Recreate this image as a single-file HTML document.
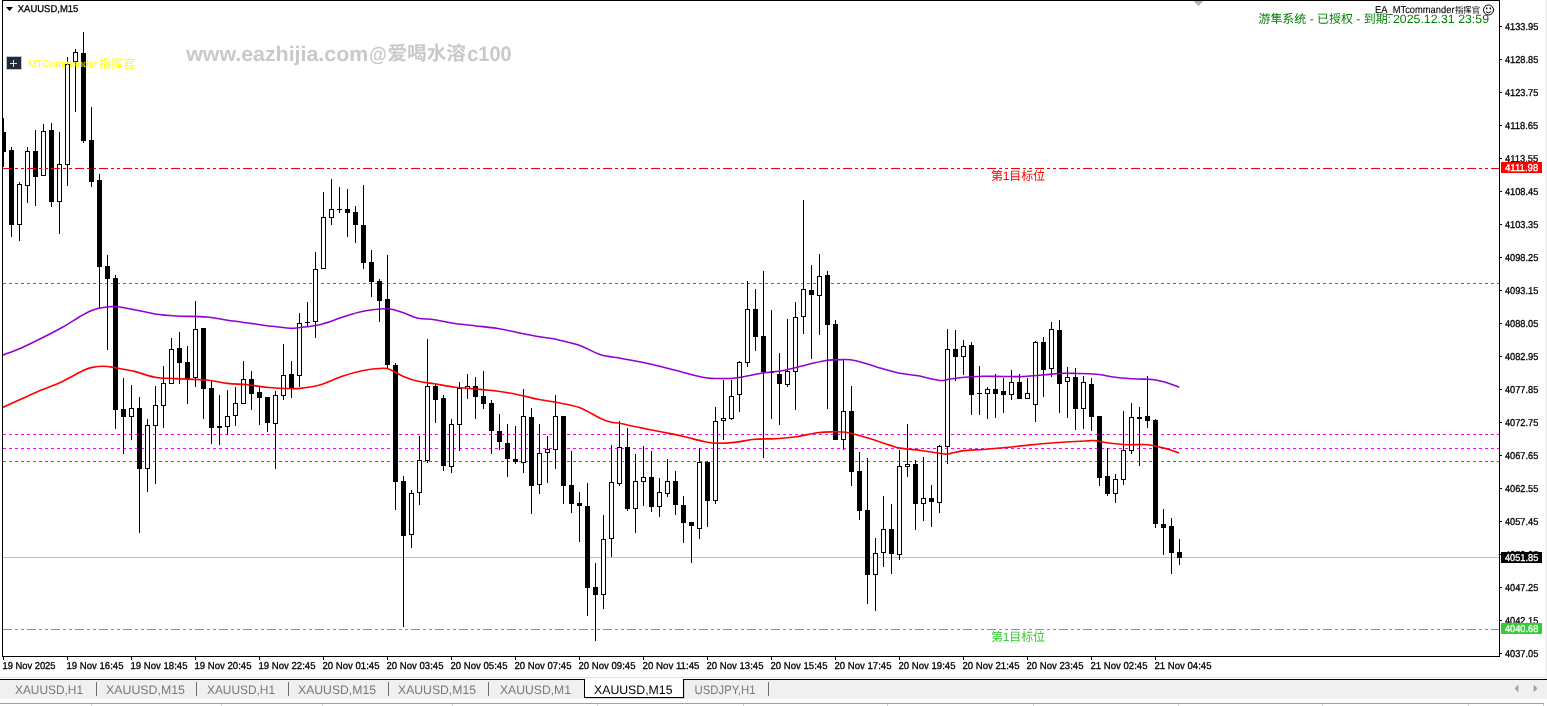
<!DOCTYPE html>
<html lang="zh"><head><meta charset="utf-8"><title>XAUUSD,M15</title>
<style>
html,body{margin:0;padding:0;background:#fff;}
body{width:1547px;height:706px;overflow:hidden;position:relative;font-family:"Liberation Sans", "Noto Sans CJK SC", sans-serif;}
svg{position:absolute;left:0;top:0;display:block;}
svg text{font-family:"Liberation Sans", "Noto Sans CJK SC", sans-serif;text-rendering:geometricPrecision;}
.ax{text-rendering:geometricPrecision;font-size:10px;fill:#000;stroke:#000;stroke-width:0.3px;}
.tab{font-size:12.3px;fill:#787878;}
</style></head><body>
<svg width="1547" height="706" viewBox="0 0 1547 706">
<rect x="0" y="0" width="1547" height="706" fill="#ffffff"/>
<g shape-rendering="crispEdges" fill="none" stroke-width="1">
<line x1="3" y1="557.5" x2="1499" y2="557.5" stroke="#c0c0c0"/>
<line x1="3" y1="283.5" x2="1499" y2="283.5" stroke="#ff00ff" stroke-dasharray="3 3"/>
<line x1="3" y1="434.5" x2="1499" y2="434.5" stroke="#ff00ff" stroke-dasharray="3 3"/>
<line x1="3" y1="448.5" x2="1499" y2="448.5" stroke="#ff00ff" stroke-dasharray="3 3"/>
<line x1="3" y1="461.5" x2="1499" y2="461.5" stroke="#ff00ff" stroke-dasharray="3 3"/>
</g>
<g shape-rendering="crispEdges">
<rect x="3" y="118" width="1" height="49" fill="#000"/>
<rect x="2" y="132" width="4" height="20" fill="#000"/>
<rect x="11" y="147" width="1" height="90" fill="#000"/>
<rect x="9" y="150" width="5" height="75" fill="#000"/>
<rect x="19" y="182" width="1" height="59" fill="#000"/>
<rect x="17" y="184" width="5" height="41" fill="#000"/>
<rect x="18" y="185" width="3" height="39" fill="#fff"/>
<rect x="27" y="147" width="1" height="56" fill="#000"/>
<rect x="25" y="151" width="5" height="35" fill="#000"/>
<rect x="26" y="152" width="3" height="33" fill="#fff"/>
<rect x="35" y="130" width="1" height="76" fill="#000"/>
<rect x="33" y="151" width="5" height="26" fill="#000"/>
<rect x="43" y="124" width="1" height="52" fill="#000"/>
<rect x="41" y="131" width="5" height="45" fill="#000"/>
<rect x="42" y="132" width="3" height="43" fill="#fff"/>
<rect x="51" y="123" width="1" height="84" fill="#000"/>
<rect x="49" y="130" width="5" height="72" fill="#000"/>
<rect x="59" y="132" width="1" height="102" fill="#000"/>
<rect x="57" y="164" width="5" height="38" fill="#000"/>
<rect x="58" y="165" width="3" height="36" fill="#fff"/>
<rect x="67" y="57" width="1" height="129" fill="#000"/>
<rect x="65" y="64" width="5" height="101" fill="#000"/>
<rect x="66" y="65" width="3" height="99" fill="#fff"/>
<rect x="75" y="49" width="1" height="63" fill="#000"/>
<rect x="73" y="52" width="5" height="10" fill="#000"/>
<rect x="74" y="53" width="3" height="8" fill="#fff"/>
<rect x="83" y="32" width="1" height="111" fill="#000"/>
<rect x="81" y="53" width="5" height="88" fill="#000"/>
<rect x="91" y="107" width="1" height="80" fill="#000"/>
<rect x="89" y="140" width="5" height="42" fill="#000"/>
<rect x="99" y="174" width="1" height="134" fill="#000"/>
<rect x="97" y="180" width="5" height="87" fill="#000"/>
<rect x="107" y="255" width="1" height="95" fill="#000"/>
<rect x="105" y="266" width="5" height="13" fill="#000"/>
<rect x="115" y="275" width="1" height="154" fill="#000"/>
<rect x="113" y="278" width="5" height="132" fill="#000"/>
<rect x="123" y="378" width="1" height="76" fill="#000"/>
<rect x="121" y="409" width="5" height="8" fill="#000"/>
<rect x="131" y="385" width="1" height="55" fill="#000"/>
<rect x="129" y="408" width="5" height="9" fill="#000"/>
<rect x="130" y="409" width="3" height="7" fill="#fff"/>
<rect x="139" y="397" width="1" height="136" fill="#000"/>
<rect x="137" y="408" width="5" height="61" fill="#000"/>
<rect x="147" y="419" width="1" height="73" fill="#000"/>
<rect x="145" y="425" width="5" height="44" fill="#000"/>
<rect x="146" y="426" width="3" height="42" fill="#fff"/>
<rect x="155" y="386" width="1" height="98" fill="#000"/>
<rect x="153" y="405" width="5" height="21" fill="#000"/>
<rect x="154" y="406" width="3" height="19" fill="#fff"/>
<rect x="163" y="366" width="1" height="62" fill="#000"/>
<rect x="161" y="383" width="5" height="23" fill="#000"/>
<rect x="162" y="384" width="3" height="21" fill="#fff"/>
<rect x="171" y="338" width="1" height="46" fill="#000"/>
<rect x="169" y="349" width="5" height="35" fill="#000"/>
<rect x="170" y="350" width="3" height="33" fill="#fff"/>
<rect x="179" y="332" width="1" height="52" fill="#000"/>
<rect x="177" y="348" width="5" height="15" fill="#000"/>
<rect x="187" y="346" width="1" height="58" fill="#000"/>
<rect x="185" y="362" width="5" height="17" fill="#000"/>
<rect x="195" y="301" width="1" height="86" fill="#000"/>
<rect x="193" y="329" width="5" height="49" fill="#000"/>
<rect x="194" y="330" width="3" height="47" fill="#fff"/>
<rect x="203" y="328" width="1" height="91" fill="#000"/>
<rect x="201" y="328" width="5" height="61" fill="#000"/>
<rect x="211" y="380" width="1" height="64" fill="#000"/>
<rect x="209" y="388" width="5" height="40" fill="#000"/>
<rect x="219" y="395" width="1" height="50" fill="#000"/>
<rect x="217" y="426" width="5" height="2" fill="#000"/>
<rect x="227" y="390" width="1" height="45" fill="#000"/>
<rect x="225" y="416" width="5" height="11" fill="#000"/>
<rect x="226" y="417" width="3" height="9" fill="#fff"/>
<rect x="235" y="387" width="1" height="39" fill="#000"/>
<rect x="233" y="403" width="5" height="13" fill="#000"/>
<rect x="234" y="404" width="3" height="11" fill="#fff"/>
<rect x="243" y="361" width="1" height="43" fill="#000"/>
<rect x="241" y="379" width="5" height="25" fill="#000"/>
<rect x="242" y="380" width="3" height="23" fill="#fff"/>
<rect x="251" y="371" width="1" height="39" fill="#000"/>
<rect x="249" y="379" width="5" height="15" fill="#000"/>
<rect x="259" y="386" width="1" height="39" fill="#000"/>
<rect x="257" y="392" width="5" height="6" fill="#000"/>
<rect x="267" y="397" width="1" height="35" fill="#000"/>
<rect x="265" y="397" width="5" height="26" fill="#000"/>
<rect x="275" y="391" width="1" height="78" fill="#000"/>
<rect x="273" y="395" width="5" height="29" fill="#000"/>
<rect x="274" y="396" width="3" height="27" fill="#fff"/>
<rect x="283" y="344" width="1" height="56" fill="#000"/>
<rect x="281" y="375" width="5" height="21" fill="#000"/>
<rect x="282" y="376" width="3" height="19" fill="#fff"/>
<rect x="291" y="361" width="1" height="37" fill="#000"/>
<rect x="289" y="374" width="5" height="14" fill="#000"/>
<rect x="299" y="313" width="1" height="74" fill="#000"/>
<rect x="297" y="323" width="5" height="53" fill="#000"/>
<rect x="298" y="324" width="3" height="51" fill="#fff"/>
<rect x="307" y="302" width="1" height="25" fill="#000"/>
<rect x="305" y="322" width="5" height="1" fill="#000"/>
<rect x="315" y="252" width="1" height="86" fill="#000"/>
<rect x="313" y="269" width="5" height="53" fill="#000"/>
<rect x="314" y="270" width="3" height="51" fill="#fff"/>
<rect x="323" y="192" width="1" height="77" fill="#000"/>
<rect x="321" y="217" width="5" height="52" fill="#000"/>
<rect x="322" y="218" width="3" height="50" fill="#fff"/>
<rect x="331" y="179" width="1" height="46" fill="#000"/>
<rect x="329" y="209" width="5" height="9" fill="#000"/>
<rect x="330" y="210" width="3" height="7" fill="#fff"/>
<rect x="339" y="187" width="1" height="26" fill="#000"/>
<rect x="337" y="209" width="5" height="1" fill="#000"/>
<rect x="347" y="189" width="1" height="48" fill="#000"/>
<rect x="345" y="209" width="5" height="4" fill="#000"/>
<rect x="355" y="206" width="1" height="37" fill="#000"/>
<rect x="353" y="212" width="5" height="13" fill="#000"/>
<rect x="363" y="185" width="1" height="84" fill="#000"/>
<rect x="361" y="225" width="5" height="38" fill="#000"/>
<rect x="371" y="250" width="1" height="47" fill="#000"/>
<rect x="369" y="262" width="5" height="20" fill="#000"/>
<rect x="379" y="279" width="1" height="43" fill="#000"/>
<rect x="377" y="281" width="5" height="20" fill="#000"/>
<rect x="387" y="255" width="1" height="113" fill="#000"/>
<rect x="385" y="299" width="5" height="66" fill="#000"/>
<rect x="395" y="363" width="1" height="147" fill="#000"/>
<rect x="393" y="365" width="5" height="117" fill="#000"/>
<rect x="403" y="476" width="1" height="151" fill="#000"/>
<rect x="401" y="481" width="5" height="55" fill="#000"/>
<rect x="411" y="490" width="1" height="58" fill="#000"/>
<rect x="409" y="493" width="5" height="42" fill="#000"/>
<rect x="410" y="494" width="3" height="40" fill="#fff"/>
<rect x="419" y="436" width="1" height="69" fill="#000"/>
<rect x="417" y="460" width="5" height="33" fill="#000"/>
<rect x="418" y="461" width="3" height="31" fill="#fff"/>
<rect x="427" y="339" width="1" height="124" fill="#000"/>
<rect x="425" y="386" width="5" height="75" fill="#000"/>
<rect x="426" y="387" width="3" height="73" fill="#fff"/>
<rect x="435" y="384" width="1" height="39" fill="#000"/>
<rect x="433" y="386" width="5" height="14" fill="#000"/>
<rect x="443" y="395" width="1" height="76" fill="#000"/>
<rect x="441" y="398" width="5" height="68" fill="#000"/>
<rect x="451" y="419" width="1" height="54" fill="#000"/>
<rect x="449" y="424" width="5" height="43" fill="#000"/>
<rect x="450" y="425" width="3" height="41" fill="#fff"/>
<rect x="459" y="382" width="1" height="69" fill="#000"/>
<rect x="457" y="388" width="5" height="37" fill="#000"/>
<rect x="458" y="389" width="3" height="35" fill="#fff"/>
<rect x="467" y="374" width="1" height="25" fill="#000"/>
<rect x="465" y="386" width="5" height="3" fill="#000"/>
<rect x="466" y="387" width="3" height="1" fill="#fff"/>
<rect x="475" y="377" width="1" height="42" fill="#000"/>
<rect x="473" y="386" width="5" height="11" fill="#000"/>
<rect x="483" y="371" width="1" height="38" fill="#000"/>
<rect x="481" y="396" width="5" height="8" fill="#000"/>
<rect x="491" y="400" width="1" height="54" fill="#000"/>
<rect x="489" y="403" width="5" height="28" fill="#000"/>
<rect x="499" y="414" width="1" height="36" fill="#000"/>
<rect x="497" y="431" width="5" height="11" fill="#000"/>
<rect x="507" y="424" width="1" height="53" fill="#000"/>
<rect x="505" y="443" width="5" height="16" fill="#000"/>
<rect x="515" y="426" width="1" height="38" fill="#000"/>
<rect x="513" y="459" width="5" height="3" fill="#000"/>
<rect x="523" y="389" width="1" height="84" fill="#000"/>
<rect x="521" y="416" width="5" height="47" fill="#000"/>
<rect x="522" y="417" width="3" height="45" fill="#fff"/>
<rect x="531" y="408" width="1" height="106" fill="#000"/>
<rect x="529" y="417" width="5" height="69" fill="#000"/>
<rect x="539" y="424" width="1" height="70" fill="#000"/>
<rect x="537" y="453" width="5" height="32" fill="#000"/>
<rect x="538" y="454" width="3" height="30" fill="#fff"/>
<rect x="547" y="436" width="1" height="47" fill="#000"/>
<rect x="545" y="449" width="5" height="4" fill="#000"/>
<rect x="546" y="450" width="3" height="2" fill="#fff"/>
<rect x="555" y="395" width="1" height="74" fill="#000"/>
<rect x="553" y="416" width="5" height="34" fill="#000"/>
<rect x="554" y="417" width="3" height="32" fill="#fff"/>
<rect x="563" y="416" width="1" height="88" fill="#000"/>
<rect x="561" y="416" width="5" height="70" fill="#000"/>
<rect x="571" y="451" width="1" height="62" fill="#000"/>
<rect x="569" y="485" width="5" height="19" fill="#000"/>
<rect x="579" y="492" width="1" height="50" fill="#000"/>
<rect x="577" y="503" width="5" height="3" fill="#000"/>
<rect x="587" y="483" width="1" height="133" fill="#000"/>
<rect x="585" y="506" width="5" height="82" fill="#000"/>
<rect x="595" y="563" width="1" height="78" fill="#000"/>
<rect x="593" y="587" width="5" height="8" fill="#000"/>
<rect x="603" y="515" width="1" height="94" fill="#000"/>
<rect x="601" y="539" width="5" height="56" fill="#000"/>
<rect x="602" y="540" width="3" height="54" fill="#fff"/>
<rect x="611" y="445" width="1" height="112" fill="#000"/>
<rect x="609" y="482" width="5" height="57" fill="#000"/>
<rect x="610" y="483" width="3" height="55" fill="#fff"/>
<rect x="619" y="421" width="1" height="65" fill="#000"/>
<rect x="617" y="447" width="5" height="37" fill="#000"/>
<rect x="618" y="448" width="3" height="35" fill="#fff"/>
<rect x="627" y="428" width="1" height="83" fill="#000"/>
<rect x="625" y="447" width="5" height="62" fill="#000"/>
<rect x="635" y="454" width="1" height="79" fill="#000"/>
<rect x="633" y="481" width="5" height="28" fill="#000"/>
<rect x="634" y="482" width="3" height="26" fill="#fff"/>
<rect x="643" y="446" width="1" height="60" fill="#000"/>
<rect x="641" y="477" width="5" height="5" fill="#000"/>
<rect x="642" y="478" width="3" height="3" fill="#fff"/>
<rect x="651" y="451" width="1" height="61" fill="#000"/>
<rect x="649" y="477" width="5" height="30" fill="#000"/>
<rect x="659" y="478" width="1" height="39" fill="#000"/>
<rect x="657" y="492" width="5" height="15" fill="#000"/>
<rect x="658" y="493" width="3" height="13" fill="#fff"/>
<rect x="667" y="459" width="1" height="38" fill="#000"/>
<rect x="665" y="481" width="5" height="13" fill="#000"/>
<rect x="666" y="482" width="3" height="11" fill="#fff"/>
<rect x="675" y="471" width="1" height="44" fill="#000"/>
<rect x="673" y="481" width="5" height="24" fill="#000"/>
<rect x="683" y="496" width="1" height="47" fill="#000"/>
<rect x="681" y="505" width="5" height="18" fill="#000"/>
<rect x="691" y="522" width="1" height="41" fill="#000"/>
<rect x="689" y="522" width="5" height="4" fill="#000"/>
<rect x="699" y="448" width="1" height="91" fill="#000"/>
<rect x="697" y="462" width="5" height="67" fill="#000"/>
<rect x="698" y="463" width="3" height="65" fill="#fff"/>
<rect x="707" y="461" width="1" height="66" fill="#000"/>
<rect x="705" y="462" width="5" height="39" fill="#000"/>
<rect x="715" y="407" width="1" height="97" fill="#000"/>
<rect x="713" y="421" width="5" height="80" fill="#000"/>
<rect x="714" y="422" width="3" height="78" fill="#fff"/>
<rect x="723" y="380" width="1" height="60" fill="#000"/>
<rect x="721" y="418" width="5" height="3" fill="#000"/>
<rect x="722" y="419" width="3" height="1" fill="#fff"/>
<rect x="731" y="380" width="1" height="40" fill="#000"/>
<rect x="729" y="396" width="5" height="23" fill="#000"/>
<rect x="730" y="397" width="3" height="21" fill="#fff"/>
<rect x="739" y="361" width="1" height="51" fill="#000"/>
<rect x="737" y="362" width="5" height="33" fill="#000"/>
<rect x="738" y="363" width="3" height="31" fill="#fff"/>
<rect x="747" y="281" width="1" height="86" fill="#000"/>
<rect x="745" y="309" width="5" height="54" fill="#000"/>
<rect x="746" y="310" width="3" height="52" fill="#fff"/>
<rect x="755" y="289" width="1" height="62" fill="#000"/>
<rect x="753" y="309" width="5" height="28" fill="#000"/>
<rect x="763" y="271" width="1" height="187" fill="#000"/>
<rect x="761" y="336" width="5" height="36" fill="#000"/>
<rect x="771" y="310" width="1" height="109" fill="#000"/>
<rect x="769" y="372" width="5" height="1" fill="#000"/>
<rect x="779" y="353" width="1" height="72" fill="#000"/>
<rect x="777" y="374" width="5" height="10" fill="#000"/>
<rect x="787" y="319" width="1" height="68" fill="#000"/>
<rect x="785" y="371" width="5" height="14" fill="#000"/>
<rect x="786" y="372" width="3" height="12" fill="#fff"/>
<rect x="795" y="302" width="1" height="108" fill="#000"/>
<rect x="793" y="317" width="5" height="55" fill="#000"/>
<rect x="794" y="318" width="3" height="53" fill="#fff"/>
<rect x="803" y="200" width="1" height="134" fill="#000"/>
<rect x="801" y="289" width="5" height="28" fill="#000"/>
<rect x="802" y="290" width="3" height="26" fill="#fff"/>
<rect x="811" y="265" width="1" height="94" fill="#000"/>
<rect x="809" y="290" width="5" height="5" fill="#000"/>
<rect x="819" y="254" width="1" height="81" fill="#000"/>
<rect x="817" y="276" width="5" height="20" fill="#000"/>
<rect x="818" y="277" width="3" height="18" fill="#fff"/>
<rect x="827" y="271" width="1" height="138" fill="#000"/>
<rect x="825" y="275" width="5" height="50" fill="#000"/>
<rect x="835" y="320" width="1" height="120" fill="#000"/>
<rect x="833" y="324" width="5" height="116" fill="#000"/>
<rect x="843" y="360" width="1" height="90" fill="#000"/>
<rect x="841" y="411" width="5" height="29" fill="#000"/>
<rect x="842" y="412" width="3" height="27" fill="#fff"/>
<rect x="851" y="386" width="1" height="100" fill="#000"/>
<rect x="849" y="411" width="5" height="61" fill="#000"/>
<rect x="859" y="452" width="1" height="68" fill="#000"/>
<rect x="857" y="471" width="5" height="40" fill="#000"/>
<rect x="867" y="458" width="1" height="146" fill="#000"/>
<rect x="865" y="510" width="5" height="65" fill="#000"/>
<rect x="875" y="538" width="1" height="73" fill="#000"/>
<rect x="873" y="553" width="5" height="22" fill="#000"/>
<rect x="874" y="554" width="3" height="20" fill="#fff"/>
<rect x="883" y="496" width="1" height="71" fill="#000"/>
<rect x="881" y="529" width="5" height="24" fill="#000"/>
<rect x="882" y="530" width="3" height="22" fill="#fff"/>
<rect x="891" y="504" width="1" height="70" fill="#000"/>
<rect x="889" y="529" width="5" height="25" fill="#000"/>
<rect x="899" y="450" width="1" height="110" fill="#000"/>
<rect x="897" y="466" width="5" height="89" fill="#000"/>
<rect x="898" y="467" width="3" height="87" fill="#fff"/>
<rect x="907" y="424" width="1" height="53" fill="#000"/>
<rect x="905" y="464" width="5" height="3" fill="#000"/>
<rect x="906" y="465" width="3" height="1" fill="#fff"/>
<rect x="915" y="460" width="1" height="70" fill="#000"/>
<rect x="913" y="464" width="5" height="40" fill="#000"/>
<rect x="923" y="457" width="1" height="64" fill="#000"/>
<rect x="921" y="498" width="5" height="6" fill="#000"/>
<rect x="922" y="499" width="3" height="4" fill="#fff"/>
<rect x="931" y="485" width="1" height="42" fill="#000"/>
<rect x="929" y="498" width="5" height="4" fill="#000"/>
<rect x="939" y="445" width="1" height="68" fill="#000"/>
<rect x="937" y="446" width="5" height="57" fill="#000"/>
<rect x="938" y="447" width="3" height="55" fill="#fff"/>
<rect x="947" y="329" width="1" height="135" fill="#000"/>
<rect x="945" y="349" width="5" height="98" fill="#000"/>
<rect x="946" y="350" width="3" height="96" fill="#fff"/>
<rect x="955" y="330" width="1" height="51" fill="#000"/>
<rect x="953" y="349" width="5" height="8" fill="#000"/>
<rect x="963" y="340" width="1" height="35" fill="#000"/>
<rect x="961" y="346" width="5" height="11" fill="#000"/>
<rect x="962" y="347" width="3" height="9" fill="#fff"/>
<rect x="971" y="342" width="1" height="73" fill="#000"/>
<rect x="969" y="345" width="5" height="50" fill="#000"/>
<rect x="979" y="366" width="1" height="49" fill="#000"/>
<rect x="977" y="393" width="5" height="1" fill="#000"/>
<rect x="987" y="387" width="1" height="32" fill="#000"/>
<rect x="985" y="389" width="5" height="5" fill="#000"/>
<rect x="986" y="390" width="3" height="3" fill="#fff"/>
<rect x="995" y="374" width="1" height="44" fill="#000"/>
<rect x="993" y="389" width="5" height="5" fill="#000"/>
<rect x="1003" y="378" width="1" height="35" fill="#000"/>
<rect x="1001" y="391" width="5" height="4" fill="#000"/>
<rect x="1011" y="370" width="1" height="30" fill="#000"/>
<rect x="1009" y="382" width="5" height="13" fill="#000"/>
<rect x="1010" y="383" width="3" height="11" fill="#fff"/>
<rect x="1019" y="374" width="1" height="25" fill="#000"/>
<rect x="1017" y="382" width="5" height="17" fill="#000"/>
<rect x="1027" y="378" width="1" height="21" fill="#000"/>
<rect x="1025" y="393" width="5" height="6" fill="#000"/>
<rect x="1026" y="394" width="3" height="4" fill="#fff"/>
<rect x="1035" y="341" width="1" height="81" fill="#000"/>
<rect x="1033" y="342" width="5" height="63" fill="#000"/>
<rect x="1034" y="343" width="3" height="61" fill="#fff"/>
<rect x="1043" y="337" width="1" height="60" fill="#000"/>
<rect x="1041" y="342" width="5" height="28" fill="#000"/>
<rect x="1051" y="322" width="1" height="55" fill="#000"/>
<rect x="1049" y="329" width="5" height="40" fill="#000"/>
<rect x="1050" y="330" width="3" height="38" fill="#fff"/>
<rect x="1059" y="320" width="1" height="93" fill="#000"/>
<rect x="1057" y="330" width="5" height="54" fill="#000"/>
<rect x="1067" y="367" width="1" height="51" fill="#000"/>
<rect x="1065" y="377" width="5" height="5" fill="#000"/>
<rect x="1066" y="378" width="3" height="3" fill="#fff"/>
<rect x="1075" y="368" width="1" height="62" fill="#000"/>
<rect x="1073" y="377" width="5" height="32" fill="#000"/>
<rect x="1083" y="376" width="1" height="53" fill="#000"/>
<rect x="1081" y="382" width="5" height="27" fill="#000"/>
<rect x="1082" y="383" width="3" height="25" fill="#fff"/>
<rect x="1091" y="378" width="1" height="53" fill="#000"/>
<rect x="1089" y="384" width="5" height="33" fill="#000"/>
<rect x="1099" y="416" width="1" height="70" fill="#000"/>
<rect x="1097" y="416" width="5" height="62" fill="#000"/>
<rect x="1107" y="448" width="1" height="48" fill="#000"/>
<rect x="1105" y="476" width="5" height="18" fill="#000"/>
<rect x="1115" y="474" width="1" height="29" fill="#000"/>
<rect x="1113" y="479" width="5" height="15" fill="#000"/>
<rect x="1114" y="480" width="3" height="13" fill="#fff"/>
<rect x="1123" y="411" width="1" height="74" fill="#000"/>
<rect x="1121" y="450" width="5" height="30" fill="#000"/>
<rect x="1122" y="451" width="3" height="28" fill="#fff"/>
<rect x="1131" y="403" width="1" height="51" fill="#000"/>
<rect x="1129" y="417" width="5" height="34" fill="#000"/>
<rect x="1130" y="418" width="3" height="32" fill="#fff"/>
<rect x="1139" y="407" width="1" height="59" fill="#000"/>
<rect x="1137" y="417" width="5" height="2" fill="#000"/>
<rect x="1147" y="376" width="1" height="52" fill="#000"/>
<rect x="1145" y="416" width="5" height="5" fill="#000"/>
<rect x="1155" y="419" width="1" height="109" fill="#000"/>
<rect x="1153" y="420" width="5" height="104" fill="#000"/>
<rect x="1163" y="509" width="1" height="46" fill="#000"/>
<rect x="1161" y="524" width="5" height="4" fill="#000"/>
<rect x="1171" y="518" width="1" height="56" fill="#000"/>
<rect x="1169" y="526" width="5" height="27" fill="#000"/>
<rect x="1179" y="539" width="1" height="26" fill="#000"/>
<rect x="1177" y="552" width="5" height="6" fill="#000"/>
</g>
<g shape-rendering="crispEdges" fill="none" stroke-width="1">
<line x1="3" y1="168.5" x2="1499" y2="168.5" stroke="#ff0000" stroke-dasharray="9 3 3 3 3 3"/>
<line x1="3" y1="629.5" x2="1499" y2="629.5" stroke="#32cd32" stroke-dasharray="9 3 3 3 3 3"/>
</g>
<path d="M2.5 355.2C5.5 354.0 14.2 351.0 20.7 348.2C27.2 345.4 34.5 341.8 41.4 338.3C48.3 334.9 55.1 331.4 62.0 327.5C68.9 323.6 77.5 317.9 82.7 315.0C87.9 312.1 89.5 311.2 93.0 310.0C96.5 308.8 99.6 308.2 103.4 307.6C107.2 307.0 110.6 306.2 115.8 306.6C121.0 307.0 128.0 308.5 134.5 309.7C141.0 310.9 148.1 312.9 155.0 314.0C161.9 315.1 167.2 315.5 175.8 316.0C184.5 316.5 198.3 316.3 206.9 317.0C215.5 317.7 220.8 319.3 227.6 320.3C234.4 321.3 241.1 322.1 248.0 323.0C254.9 323.9 262.1 325.0 269.0 325.9C275.9 326.8 284.4 328.0 289.6 328.3C294.8 328.6 294.8 328.1 300.0 327.5C305.2 326.9 313.8 326.0 320.7 324.4C327.6 322.8 334.5 319.8 341.4 317.6C348.3 315.4 354.3 312.9 362.0 311.4C369.7 309.9 380.6 308.5 387.5 308.7C394.4 308.9 398.3 311.2 403.4 312.8C408.5 314.4 412.8 317.1 418.0 318.2C423.2 319.3 428.3 318.8 434.5 319.7C440.7 320.6 448.1 322.4 455.0 323.4C461.9 324.4 468.9 325.1 475.8 325.9C482.7 326.7 489.6 327.2 496.5 328.3C503.4 329.4 510.3 331.1 517.2 332.5C524.1 333.9 531.0 335.4 537.9 336.6C544.8 337.8 551.6 338.4 558.6 339.9C565.6 341.4 573.0 343.0 580.0 345.5C587.0 348.0 593.8 352.7 600.7 354.8C607.6 356.9 614.5 357.1 621.4 358.4C628.3 359.6 635.1 360.9 642.0 362.3C648.9 363.7 655.8 365.3 662.7 367.0C669.6 368.7 676.5 370.6 683.4 372.4C690.3 374.2 698.9 376.6 704.1 377.6C709.3 378.6 709.1 378.3 714.4 378.4C719.7 378.5 727.8 378.9 735.9 378.0C744.0 377.1 754.8 374.4 762.7 373.1C770.6 371.8 776.5 371.7 783.4 370.4C790.3 369.1 797.2 367.0 804.1 365.4C811.0 363.8 818.2 361.7 824.8 360.7C831.3 359.7 838.2 359.6 843.4 359.6C848.6 359.6 850.3 359.5 855.8 360.7C861.3 361.9 869.6 364.9 876.5 366.9C883.4 368.9 890.3 371.2 897.2 372.7C904.1 374.2 910.9 374.5 917.9 375.8C924.9 377.1 933.8 379.8 939.0 380.4C944.2 381.0 945.1 379.8 948.9 379.3C952.7 378.8 956.4 378.0 962.0 377.5C967.6 377.0 975.8 376.5 982.7 376.3C989.6 376.1 996.5 376.5 1003.4 376.5C1010.3 376.5 1017.1 376.8 1024.0 376.5C1030.9 376.2 1038.9 375.3 1044.8 374.8C1050.7 374.3 1054.1 373.6 1059.3 373.4C1064.5 373.2 1069.6 373.3 1075.8 373.4C1082.0 373.5 1089.6 373.5 1096.5 374.2C1103.4 374.9 1110.3 376.7 1117.2 377.5C1124.1 378.3 1132.0 378.7 1137.9 379.0C1143.8 379.3 1147.9 378.9 1152.4 379.4C1156.9 379.9 1160.3 380.7 1164.8 382.0C1169.3 383.3 1176.9 386.3 1179.3 387.2" fill="none" stroke="#9400d3" stroke-width="1.55" stroke-linejoin="round"/>
<path d="M2.5 407.6C5.5 406.2 14.2 402.2 20.7 399.3C27.2 396.4 34.5 392.9 41.4 390.0C48.3 387.1 55.1 384.9 62.0 381.7C68.9 378.5 77.9 373.0 82.7 370.7C87.5 368.4 87.5 368.4 91.0 367.6C94.5 366.9 99.3 366.2 103.4 366.2C107.5 366.2 110.6 366.9 115.8 367.8C121.0 368.7 128.0 369.8 134.5 371.4C141.0 373.0 148.1 376.0 155.0 377.2C161.9 378.4 167.2 378.1 175.8 378.6C184.5 379.1 198.3 379.2 206.9 380.0C215.5 380.8 220.8 382.6 227.6 383.4C234.4 384.2 241.1 384.1 248.0 384.8C254.9 385.5 262.1 386.9 269.0 387.5C275.9 388.1 284.4 388.4 289.6 388.5C294.8 388.6 294.8 389.0 300.0 388.4C305.2 387.8 313.8 386.8 320.7 384.8C327.6 382.8 334.5 378.9 341.4 376.5C348.3 374.1 355.1 372.1 362.0 370.7C368.9 369.3 377.9 368.4 382.7 368.3C387.5 368.2 387.6 368.5 391.0 369.9C394.4 371.3 398.9 374.6 403.4 376.5C407.9 378.4 412.8 380.1 418.0 381.3C423.2 382.5 428.3 382.8 434.5 383.8C440.7 384.8 448.1 386.4 455.0 387.3C461.9 388.2 468.9 388.4 475.8 389.0C482.7 389.6 489.6 390.1 496.5 391.0C503.4 391.9 510.3 393.1 517.2 394.5C524.1 395.9 531.0 397.9 537.9 399.3C544.8 400.7 551.7 401.4 558.6 402.8C565.5 404.2 572.4 405.0 579.3 407.6C586.2 410.2 594.8 415.8 600.0 418.2C605.2 420.6 606.8 421.1 610.3 422.0C613.8 422.9 615.5 422.5 620.7 423.5C625.9 424.5 634.5 426.5 641.4 427.9C648.3 429.3 655.1 430.6 662.0 432.0C668.9 433.4 675.8 434.6 682.7 436.2C689.6 437.8 697.9 440.2 703.4 441.4C708.9 442.6 710.6 443.0 715.8 443.2C721.0 443.4 728.0 443.0 734.5 442.4C741.0 441.8 748.1 439.9 755.0 439.3C761.9 438.7 768.9 439.1 775.8 438.7C782.7 438.3 789.6 437.8 796.5 436.8C803.4 435.8 811.3 433.5 817.2 432.7C823.1 431.9 826.5 431.8 831.7 431.8C836.9 431.8 842.0 431.6 848.2 432.7C854.4 433.8 862.0 436.2 868.9 438.3C875.8 440.4 884.4 443.5 889.6 445.1C894.8 446.7 894.8 447.2 900.0 448.1C905.2 449.0 914.2 449.6 920.7 450.5C927.2 451.4 934.8 452.6 939.3 453.2C943.8 453.8 943.8 454.4 947.6 454.0C951.4 453.6 956.1 451.6 962.0 450.9C967.9 450.1 975.8 450.0 982.7 449.5C989.6 449.0 996.5 448.4 1003.4 447.8C1010.3 447.2 1017.1 446.3 1024.0 445.6C1030.9 444.9 1037.9 444.1 1044.8 443.5C1051.7 442.9 1058.6 442.4 1065.5 442.0C1072.4 441.6 1081.4 441.2 1086.2 441.0C1091.0 440.8 1091.0 440.3 1094.5 440.6C1098.0 440.9 1101.4 442.0 1106.9 442.7C1112.4 443.4 1120.6 444.4 1127.5 444.7C1134.4 445.0 1142.0 444.1 1148.2 444.7C1154.4 445.3 1159.6 446.9 1164.8 448.3C1170.0 449.7 1176.9 452.2 1179.3 453.0" fill="none" stroke="#ff0000" stroke-width="1.65" stroke-linejoin="round"/>
<g shape-rendering="crispEdges">
<rect x="2" y="0" width="1498" height="1" fill="#000"/>
<rect x="2" y="0" width="1" height="657" fill="#000"/>
<rect x="1499" y="0" width="1" height="657" fill="#000"/>
<rect x="2" y="656" width="1498" height="1" fill="#000"/>
<rect x="1500" y="26" width="2" height="1" fill="#000"/>
<rect x="1500" y="59" width="2" height="1" fill="#000"/>
<rect x="1500" y="92" width="2" height="1" fill="#000"/>
<rect x="1500" y="125" width="2" height="1" fill="#000"/>
<rect x="1500" y="158" width="2" height="1" fill="#000"/>
<rect x="1500" y="191" width="2" height="1" fill="#000"/>
<rect x="1500" y="224" width="2" height="1" fill="#000"/>
<rect x="1500" y="257" width="2" height="1" fill="#000"/>
<rect x="1500" y="290" width="2" height="1" fill="#000"/>
<rect x="1500" y="323" width="2" height="1" fill="#000"/>
<rect x="1500" y="356" width="2" height="1" fill="#000"/>
<rect x="1500" y="389" width="2" height="1" fill="#000"/>
<rect x="1500" y="422" width="2" height="1" fill="#000"/>
<rect x="1500" y="455" width="2" height="1" fill="#000"/>
<rect x="1500" y="488" width="2" height="1" fill="#000"/>
<rect x="1500" y="521" width="2" height="1" fill="#000"/>
<rect x="1500" y="554" width="2" height="1" fill="#000"/>
<rect x="1500" y="587" width="2" height="1" fill="#000"/>
<rect x="1500" y="620" width="2" height="1" fill="#000"/>
<rect x="1500" y="653" width="2" height="1" fill="#000"/>
<rect x="3" y="657" width="1" height="3" fill="#000"/>
<rect x="67" y="657" width="1" height="3" fill="#000"/>
<rect x="131" y="657" width="1" height="3" fill="#000"/>
<rect x="195" y="657" width="1" height="3" fill="#000"/>
<rect x="259" y="657" width="1" height="3" fill="#000"/>
<rect x="323" y="657" width="1" height="3" fill="#000"/>
<rect x="387" y="657" width="1" height="3" fill="#000"/>
<rect x="451" y="657" width="1" height="3" fill="#000"/>
<rect x="515" y="657" width="1" height="3" fill="#000"/>
<rect x="579" y="657" width="1" height="3" fill="#000"/>
<rect x="643" y="657" width="1" height="3" fill="#000"/>
<rect x="707" y="657" width="1" height="3" fill="#000"/>
<rect x="771" y="657" width="1" height="3" fill="#000"/>
<rect x="835" y="657" width="1" height="3" fill="#000"/>
<rect x="899" y="657" width="1" height="3" fill="#000"/>
<rect x="963" y="657" width="1" height="3" fill="#000"/>
<rect x="1027" y="657" width="1" height="3" fill="#000"/>
<rect x="1091" y="657" width="1" height="3" fill="#000"/>
<rect x="1155" y="657" width="1" height="3" fill="#000"/>
<polygon points="1193,1 1204,1 1198.5,6" fill="#b4b4b4"/>
</g>
<text class="ax" x="1505" y="30" textLength="33.3" lengthAdjust="spacingAndGlyphs">4133.95</text>
<text class="ax" x="1505" y="63" textLength="33.3" lengthAdjust="spacingAndGlyphs">4128.85</text>
<text class="ax" x="1505" y="96" textLength="33.3" lengthAdjust="spacingAndGlyphs">4123.75</text>
<text class="ax" x="1505" y="129" textLength="33.3" lengthAdjust="spacingAndGlyphs">4118.65</text>
<text class="ax" x="1505" y="162" textLength="33.3" lengthAdjust="spacingAndGlyphs">4113.55</text>
<text class="ax" x="1505" y="195" textLength="33.3" lengthAdjust="spacingAndGlyphs">4108.45</text>
<text class="ax" x="1505" y="228" textLength="33.3" lengthAdjust="spacingAndGlyphs">4103.35</text>
<text class="ax" x="1505" y="261" textLength="33.3" lengthAdjust="spacingAndGlyphs">4098.25</text>
<text class="ax" x="1505" y="294" textLength="33.3" lengthAdjust="spacingAndGlyphs">4093.15</text>
<text class="ax" x="1505" y="327" textLength="33.3" lengthAdjust="spacingAndGlyphs">4088.05</text>
<text class="ax" x="1505" y="360" textLength="33.3" lengthAdjust="spacingAndGlyphs">4082.95</text>
<text class="ax" x="1505" y="393" textLength="33.3" lengthAdjust="spacingAndGlyphs">4077.85</text>
<text class="ax" x="1505" y="426" textLength="33.3" lengthAdjust="spacingAndGlyphs">4072.75</text>
<text class="ax" x="1505" y="459" textLength="33.3" lengthAdjust="spacingAndGlyphs">4067.65</text>
<text class="ax" x="1505" y="492" textLength="33.3" lengthAdjust="spacingAndGlyphs">4062.55</text>
<text class="ax" x="1505" y="525" textLength="33.3" lengthAdjust="spacingAndGlyphs">4057.45</text>
<text class="ax" x="1505" y="558" textLength="33.3" lengthAdjust="spacingAndGlyphs">4052.35</text>
<text class="ax" x="1505" y="591" textLength="33.3" lengthAdjust="spacingAndGlyphs">4047.25</text>
<text class="ax" x="1505" y="624" textLength="33.3" lengthAdjust="spacingAndGlyphs">4042.15</text>
<text class="ax" x="1505" y="657" textLength="33.3" lengthAdjust="spacingAndGlyphs">4037.05</text>
<rect x="1501" y="162" width="41" height="11" fill="#ff0000" shape-rendering="crispEdges"/>
<text class="ax" x="1505" y="171" style="fill:#fff;stroke:#fff" textLength="33.3" lengthAdjust="spacingAndGlyphs">4111.98</text>
<rect x="1501" y="552" width="41" height="11" fill="#000000" shape-rendering="crispEdges"/>
<text class="ax" x="1505" y="561" style="fill:#fff;stroke:#fff" textLength="33.3" lengthAdjust="spacingAndGlyphs">4051.85</text>
<rect x="1501" y="623" width="41" height="11" fill="#32cd32" shape-rendering="crispEdges"/>
<text class="ax" x="1505" y="632" style="fill:#fff;stroke:#fff" textLength="33.3" lengthAdjust="spacingAndGlyphs">4040.68</text>
<text class="ax" x="2.5" y="669" textLength="53" lengthAdjust="spacingAndGlyphs">19 Nov 2025</text>
<text class="ax" x="66.5" y="669" textLength="57" lengthAdjust="spacingAndGlyphs">19 Nov 16:45</text>
<text class="ax" x="130.5" y="669" textLength="57" lengthAdjust="spacingAndGlyphs">19 Nov 18:45</text>
<text class="ax" x="194.5" y="669" textLength="57" lengthAdjust="spacingAndGlyphs">19 Nov 20:45</text>
<text class="ax" x="258.5" y="669" textLength="57" lengthAdjust="spacingAndGlyphs">19 Nov 22:45</text>
<text class="ax" x="322.5" y="669" textLength="57" lengthAdjust="spacingAndGlyphs">20 Nov 01:45</text>
<text class="ax" x="386.5" y="669" textLength="57" lengthAdjust="spacingAndGlyphs">20 Nov 03:45</text>
<text class="ax" x="450.5" y="669" textLength="57" lengthAdjust="spacingAndGlyphs">20 Nov 05:45</text>
<text class="ax" x="514.5" y="669" textLength="57" lengthAdjust="spacingAndGlyphs">20 Nov 07:45</text>
<text class="ax" x="578.5" y="669" textLength="57" lengthAdjust="spacingAndGlyphs">20 Nov 09:45</text>
<text class="ax" x="642.5" y="669" textLength="57" lengthAdjust="spacingAndGlyphs">20 Nov 11:45</text>
<text class="ax" x="706.5" y="669" textLength="57" lengthAdjust="spacingAndGlyphs">20 Nov 13:45</text>
<text class="ax" x="770.5" y="669" textLength="57" lengthAdjust="spacingAndGlyphs">20 Nov 15:45</text>
<text class="ax" x="834.5" y="669" textLength="57" lengthAdjust="spacingAndGlyphs">20 Nov 17:45</text>
<text class="ax" x="898.5" y="669" textLength="57" lengthAdjust="spacingAndGlyphs">20 Nov 19:45</text>
<text class="ax" x="962.5" y="669" textLength="57" lengthAdjust="spacingAndGlyphs">20 Nov 21:45</text>
<text class="ax" x="1026.5" y="669" textLength="57" lengthAdjust="spacingAndGlyphs">20 Nov 23:45</text>
<text class="ax" x="1090.5" y="669" textLength="57" lengthAdjust="spacingAndGlyphs">21 Nov 02:45</text>
<text class="ax" x="1154.5" y="669" textLength="57" lengthAdjust="spacingAndGlyphs">21 Nov 04:45</text>
<polygon points="6,7 13,7 9.5,11" fill="#000"/>
<text class="ax" x="17.8" y="12" textLength="60.5" lengthAdjust="spacingAndGlyphs">XAUUSD,M15</text>
<rect x="6.5" y="56.5" width="15" height="13" fill="#232b36" stroke="#b9c6d8" stroke-width="1"/>
<path d="M10 63.5h7M13.5 60v7" stroke="#dde3ea" stroke-width="1" fill="none" shape-rendering="crispEdges"/>
<text x="28" y="66.7" style="font-size:10px;fill:#ffff00">MTCommander<tspan style="font-size:12px" dx="1.5" dy="1.3">指挥官</tspan></text>
<text style="font-weight:bold;fill:#c9c9c9"><tspan x="186.2" y="60.8" style="font-size:21px" textLength="182" lengthAdjust="spacingAndGlyphs">www.eazhijia.com</tspan><tspan x="369.3" y="60.8" style="font-size:20px" textLength="17.5" lengthAdjust="spacingAndGlyphs">@</tspan><tspan x="387.5" y="60.3" style="font-size:19.5px" textLength="78.5" lengthAdjust="spacingAndGlyphs">爱喝水溶</tspan><tspan x="467.3" y="60.8" style="font-size:21px" textLength="44.3" lengthAdjust="spacingAndGlyphs">c100</tspan></text>
<text style="font-size:12px;fill:#008000"><tspan x="1258.4" y="23.4" textLength="135.9" lengthAdjust="spacingAndGlyphs">游隼系统 - 已授权 - 到期: </tspan><tspan x="1393" y="23.4" textLength="96" lengthAdjust="spacingAndGlyphs">2025.12.31 23:59</tspan></text>
<text class="ax" style="stroke-width:0.1px"><tspan x="1375" y="12.8" textLength="79.5" lengthAdjust="spacingAndGlyphs">EA_MTcommander</tspan><tspan x="1455" y="12.8" style="font-size:8.5px;stroke:none" textLength="25" lengthAdjust="spacingAndGlyphs">指挥官</tspan></text>
<g fill="none" stroke="#000" stroke-width="1"><circle cx="1488.5" cy="10" r="5"/><path d="M1485.8 11.6q2.7 2.6 5.4 0"/></g><rect x="1486" y="7.5" width="1.4" height="1.8" fill="#000"/><rect x="1489.6" y="7.5" width="1.4" height="1.8" fill="#000"/>
<text x="991" y="179.5" style="font-size:12px;fill:#ff0000" textLength="54" lengthAdjust="spacing">第1目标位</text>
<text x="991" y="640.5" style="font-size:12px;fill:#32cd32" textLength="54" lengthAdjust="spacing">第1目标位</text>
<g shape-rendering="crispEdges">
<rect x="1545" y="0" width="2" height="679" fill="#f0f0f0"/>
<rect x="0" y="677" width="1545" height="1" fill="#e3e3e3"/>
<rect x="0" y="680" width="1547" height="19" fill="#f0f0f0"/>
<rect x="0" y="679" width="1547" height="1" fill="#000"/>
<rect x="585" y="679" width="98" height="18" fill="#fff"/>
<rect x="584" y="679" width="1" height="19" fill="#000"/>
<rect x="683" y="679" width="1" height="19" fill="#000"/>
<rect x="584" y="697" width="100" height="1" fill="#000"/>
<rect x="684" y="681" width="1" height="18" fill="#d6d6d6"/>
<rect x="586" y="698" width="99" height="1" fill="#d6d6d6"/>
<rect x="0" y="699" width="1547" height="7" fill="#fff"/>
<rect x="0" y="703" width="1544" height="1" fill="#a0a0a0"/>
<rect x="1543" y="704" width="1" height="2" fill="#c8c8c8"/>
<rect x="96" y="682" width="1" height="14" fill="#6e6e6e"/>
<rect x="196" y="682" width="1" height="14" fill="#6e6e6e"/>
<rect x="288" y="682" width="1" height="14" fill="#6e6e6e"/>
<rect x="388" y="682" width="1" height="14" fill="#6e6e6e"/>
<rect x="488" y="682" width="1" height="14" fill="#6e6e6e"/>
<rect x="768" y="682" width="1" height="14" fill="#6e6e6e"/>
</g>
<text class="tab" x="15" y="694.1" textLength="68" lengthAdjust="spacingAndGlyphs">XAUUSD,H1</text>
<text class="tab" x="106" y="694.1" textLength="79" lengthAdjust="spacingAndGlyphs">XAUUSD,M15</text>
<text class="tab" x="207" y="694.1" textLength="68" lengthAdjust="spacingAndGlyphs">XAUUSD,H1</text>
<text class="tab" x="298" y="694.1" textLength="78" lengthAdjust="spacingAndGlyphs">XAUUSD,M15</text>
<text class="tab" x="398" y="694.1" textLength="78" lengthAdjust="spacingAndGlyphs">XAUUSD,M15</text>
<text class="tab" x="500" y="694.1" textLength="71" lengthAdjust="spacingAndGlyphs">XAUUSD,M1</text>
<text class="tab" x="594" y="694.1" textLength="78.5" lengthAdjust="spacingAndGlyphs" style="fill:#000">XAUUSD,M15</text>
<text class="tab" x="694.5" y="694.1" textLength="61" lengthAdjust="spacingAndGlyphs">USDJPY,H1</text>
<polygon points="1514.5,688.4 1518.4,684.6 1518.4,692.2" fill="#a0a0a0"/>
<polygon points="1537.5,688.4 1533.6,684.6 1533.6,692.2" fill="#a0a0a0"/>
<rect x="91" y="704" width="1" height="2" fill="#d0d0d0"/>
<rect x="221" y="704" width="1" height="2" fill="#d0d0d0"/>
<rect x="322" y="704" width="1" height="2" fill="#d0d0d0"/>
<rect x="452" y="704" width="1" height="2" fill="#d0d0d0"/>
<rect x="597" y="704" width="1" height="2" fill="#d0d0d0"/>
<rect x="743" y="704" width="1" height="2" fill="#d0d0d0"/>
<rect x="887" y="704" width="1" height="2" fill="#d0d0d0"/>
<rect x="1033" y="704" width="1" height="2" fill="#d0d0d0"/>
<rect x="1178" y="704" width="1" height="2" fill="#d0d0d0"/>
<rect x="1322" y="704" width="1" height="2" fill="#d0d0d0"/>
<rect x="1468" y="704" width="1" height="2" fill="#d0d0d0"/>
</svg>
</body></html>
